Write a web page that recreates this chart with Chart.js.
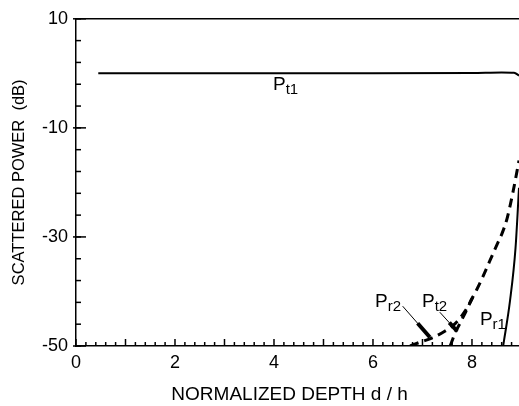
<!DOCTYPE html>
<html>
<head>
<meta charset="utf-8">
<script src="https://cdn.jsdelivr.net/npm/chart.js@4/dist/chart.umd.min.js"></script>
<style>
  html, body { margin: 0; padding: 0; background: #fff; }
  #wrap { width: 519px; height: 406px; }
</style>
</head>
<body>
<div id="wrap"><canvas id="power-chart"></canvas></div>
<script>
// tick labels
var xTicks = [0, 2, 4, 6, 8];
var yTicks = [-50, -30, -10, 10];

// normalized depth d/h  vs  scattered power (dB)
var pt1Depth = [0.45, 2, 4, 6, 8, 8.6, 8.85, 8.95];
var pt1Power = [0, 0, 0, 0, 0.05, 0.15, 0.1, -0.4];

var pr2Depth = [6.75, 6.95, 7.2, 7.45, 7.66, 7.86, 8.0, 8.1, 8.23, 8.36, 8.51, 8.61, 8.71, 8.83, 8.95];
var pr2Power = [-50, -49.3, -48.5, -47.3, -45.9, -43.6, -41.3, -39.6, -37.1, -34.4, -31.3, -29.3, -26.6, -21.7, -16];

var pt2Depth = [7.56, 7.66, 7.76, 7.86, 8.05];
var pt2Power = [-50, -47.6, -45.8, -44, -40.4];

var pr1Depth = [8.63, 8.77, 8.88, 8.95];
var pr1Power = [-50, -41.6, -32, -21];

var FONT = "'Liberation Sans', Arial, Helvetica, sans-serif";

function toPoints(xs, ys) {
  return xs.map(function (x, i) { return { x: x, y: ys[i] }; });
}

// curve names, written P + subscript
var curveLabels = [
  { sub: 't1', d: 3.98, p: -3.05 },
  { sub: 'r2', d: 6.04, p: -42.9 },
  { sub: 't2', d: 6.99, p: -42.9 },
  { sub: 'r1', d: 8.16, p: -46.2 }
];

// small ticks inside the frame, top border line, labels and pointers
var frameDecor = {
  id: 'frameDecor',
  afterDraw: function (chart) {
    var ctx = chart.ctx;
    var xs = chart.scales.x, ys = chart.scales.y, area = chart.chartArea;
    ctx.save();
    ctx.strokeStyle = '#000';
    ctx.fillStyle = '#000';
    ctx.lineWidth = 1.5;

    // top border
    ctx.beginPath();
    ctx.moveTo(area.left, area.top);
    ctx.lineTo(area.right, area.top);
    ctx.stroke();

    // x ticks every 0.2, longer at integers
    for (var i = 0; i <= 45; i++) {
      var px = xs.getPixelForValue(i / 5);
      if (px > area.right) break;
      var len = (i % 5 === 0) ? 7 : 4;
      ctx.beginPath();
      ctx.moveTo(px, area.bottom);
      ctx.lineTo(px, area.bottom - len);
      ctx.stroke();
    }

    // y ticks every 4 dB
    for (var v = 10; v >= -50; v -= 4) {
      var py = ys.getPixelForValue(v);
      ctx.beginPath();
      ctx.moveTo(area.left, py);
      ctx.lineTo(area.left + 5, py);
      ctx.stroke();
    }
    yTicks.forEach(function (t) {
      var py = ys.getPixelForValue(t);
      ctx.beginPath();
      ctx.moveTo(area.left - 3, py);
      ctx.lineTo(area.left + 10, py);
      ctx.stroke();
    });

    // labels
    curveLabels.forEach(function (l) {
      var px = xs.getPixelForValue(l.d), py = ys.getPixelForValue(l.p);
      ctx.font = '19px ' + FONT;
      ctx.textBaseline = 'alphabetic';
      ctx.fillText('P', px, py);
      var w = ctx.measureText('P').width;
      ctx.font = '15px ' + FONT;
      ctx.fillText(l.sub, px + w, py + 4);
    });

    // pointers to the two dashed curves
    function pointer(d1, p1, d2, p2) {
      var x1 = xs.getPixelForValue(d1), y1 = ys.getPixelForValue(p1);
      var x2 = xs.getPixelForValue(d2), y2 = ys.getPixelForValue(p2);
      ctx.lineWidth = 1;
      ctx.beginPath();
      ctx.moveTo(x1, y1);
      ctx.lineTo(x2, y2);
      ctx.stroke();
      var f = 0.55;
      ctx.lineWidth = 4;
      ctx.beginPath();
      ctx.moveTo(x1 + (x2 - x1) * f, y1 + (y2 - y1) * f);
      ctx.lineTo(x2, y2);
      ctx.stroke();
    }
    pointer(6.6, -42.7, 7.15, -48.4);
    pointer(7.35, -43.8, 7.7, -47.3);

    ctx.restore();
  }
};

var ctx = document.getElementById('power-chart');

var chart = new Chart(ctx, {
  type: 'scatter',
  data: {
    datasets: [{
      label: 'Pt1',
      data: toPoints(pt1Depth, pt1Power),
      borderColor: '#000',
      borderWidth: 2,
      showLine: true,
      pointRadius: 0,
      cubicInterpolationMode: 'monotone'
    }, {
      label: 'Pr2',
      data: toPoints(pr2Depth, pr2Power),
      borderColor: '#000',
      borderWidth: 3,
      borderDash: [9, 6],
      showLine: true,
      pointRadius: 0,
      cubicInterpolationMode: 'monotone'
    }, {
      label: 'Pt2',
      data: toPoints(pt2Depth, pt2Power),
      borderColor: '#000',
      borderWidth: 3,
      borderDash: [9, 6],
      showLine: true,
      pointRadius: 0,
      cubicInterpolationMode: 'monotone'
    }, {
      label: 'Pr1',
      data: toPoints(pr1Depth, pr1Power),
      borderColor: '#000',
      borderWidth: 2,
      showLine: true,
      pointRadius: 0,
      cubicInterpolationMode: 'monotone'
    }]
  },
  options: {
    responsive: true,
    maintainAspectRatio: false,
    animation: false,
    layout: { padding: { top: 15, right: 0, left: 0, bottom: 0 } },
    plugins: {
      legend: { display: false },
      tooltip: { enabled: false }
    },
    scales: {
      x: {
        type: 'linear',
        min: 0,
        max: 8.95,
        afterBuildTicks: function (scale) {
          scale.ticks = xTicks.map(function (v) { return { value: v }; });
        },
        afterFit: function (scale) { scale.height = 60; },
        grid: { display: false, drawTicks: false },
        border: { display: true, color: '#000', width: 1.5 },
        ticks: {
          color: '#000',
          font: { family: FONT, size: 18 },
          padding: 6,
          maxRotation: 0
        },
        title: {
          display: true,
          text: 'NORMALIZED DEPTH d / h   ',
          color: '#000',
          font: { family: FONT, size: 19 },
          padding: { top: 0, bottom: 0 }
        }
      },
      y: {
        type: 'linear',
        min: -50,
        max: 10,
        afterBuildTicks: function (scale) {
          scale.ticks = yTicks.map(function (v) { return { value: v }; });
        },
        afterFit: function (scale) { scale.width = 76; },
        grid: { display: false, drawTicks: false },
        border: { display: true, color: '#000', width: 1.5 },
        ticks: {
          color: '#000',
          font: { family: FONT, size: 18 },
          padding: 8
        },
        title: {
          display: true,
          text: 'SCATTERED POWER  (dB)',
          color: '#000',
          font: { family: FONT, size: 16.5 },
          padding: { top: 10, bottom: 0 }
        }
      }
    }
  },
  plugins: [frameDecor]
});
</script>
</body>
</html>
